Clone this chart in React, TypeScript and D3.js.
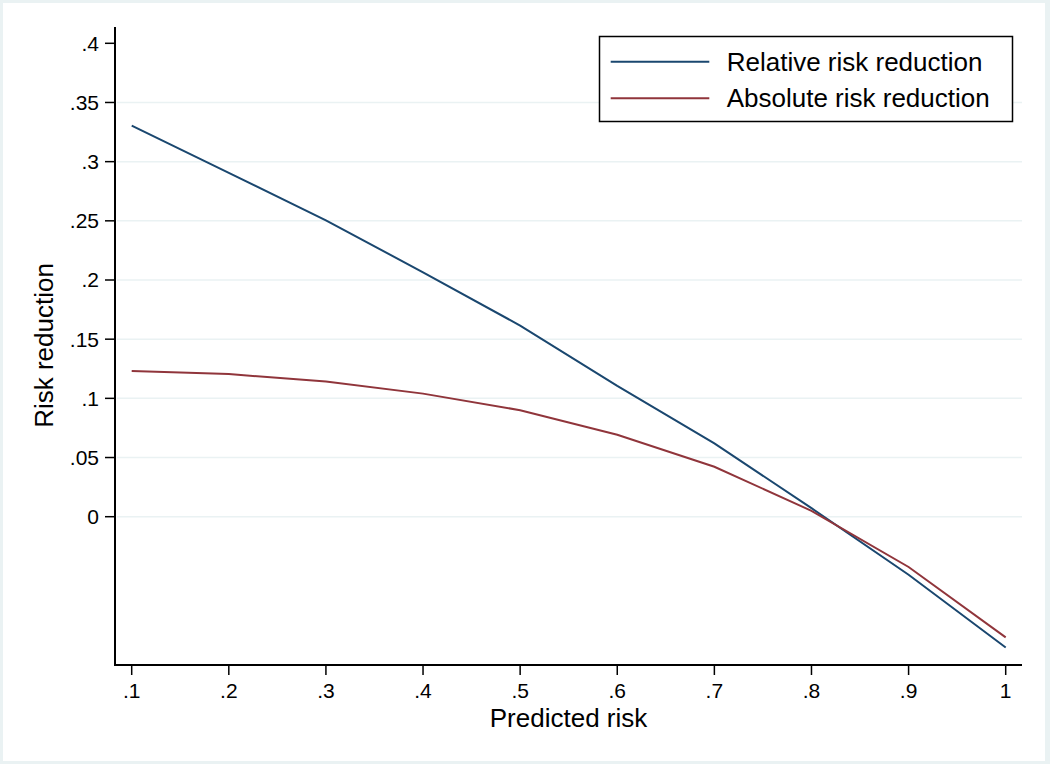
import React from "react";
import * as d3 from "d3";

const predictedRisk = [0.1, 0.2, 0.3, 0.4, 0.5, 0.6, 0.7, 0.8, 0.9, 1.0];
const relativeRiskReduction = [0.3305, 0.2906, 0.2504, 0.2065, 0.1615, 0.1105, 0.062, 0.0072, -0.049, -0.1105];
const absoluteRiskReduction = [0.1232, 0.1205, 0.1142, 0.1040, 0.0900, 0.0692, 0.0422, 0.0050, -0.0425, -0.1020];
const xTicks = [0.1, 0.2, 0.3, 0.4, 0.5, 0.6, 0.7, 0.8, 0.9, 1.0];
const xTickLabels = [".1", ".2", ".3", ".4", ".5", ".6", ".7", ".8", ".9", "1"];
const yTicks = [0, 0.05, 0.1, 0.15, 0.2, 0.25, 0.3, 0.35, 0.4];
const yTickLabels = ["0", ".05", ".1", ".15", ".2", ".25", ".3", ".35", ".4"];
const seriesNames = ["Relative risk reduction", "Absolute risk reduction"];
const seriesColors = ["#1a476f", "#90353b"];

const W = 1050;
const H = 764;
const FONT = "'Liberation Sans', Arial, Helvetica, sans-serif";

export default function App() {
  const left = 115, right = 1022, top = 27, bottom = 665;
  const x = d3.scaleLinear().domain([0.1, 1.0]).range([131.7, 1005.7]);
  const y = d3.scaleLinear().domain([0, 0.4]).range([516.7, 43.3]);
  const line = d3.line<number>().x((_, i) => x(predictedRisk[i])).y((v) => y(v));
  const series = [relativeRiskReduction, absoluteRiskReduction];

  return (
    <svg width={W} height={H} style={{ position: "absolute", left: 0, top: 0 }} fontFamily={FONT}>
      <rect x={0} y={0} width={W} height={H} fill="#eaf2f3" />
      <rect x={3} y={3} width={1042} height={758} fill="#ffffff" />
      {yTicks.filter((t) => t < 0.4).map((t) => (
        <line key={"g" + t} x1={left + 2} x2={right} y1={y(t)} y2={y(t)} stroke="#eaf2f3" strokeWidth={1.5} />
      ))}
      {series.map((s, i) => (
        <path key={i} d={line(s) || ""} fill="none" stroke={seriesColors[i]} strokeWidth={2} />
      ))}
      <line x1={left} x2={left} y1={top} y2={bottom + 1} stroke="#000" strokeWidth={2} />
      <line x1={left - 1} x2={right} y1={bottom} y2={bottom} stroke="#000" strokeWidth={2} />
      {yTicks.map((t, i) => (
        <g key={"y" + t}>
          <line x1={left - 10} x2={left} y1={y(t)} y2={y(t)} stroke="#000" strokeWidth={1.5} />
          <text x={99} y={y(t)} dy="0.35em" textAnchor="end" fontSize={21} fill="#000">{yTickLabels[i]}</text>
        </g>
      ))}
      {xTicks.map((t, i) => (
        <g key={"x" + t}>
          <line x1={x(t)} x2={x(t)} y1={bottom} y2={bottom + 10} stroke="#000" strokeWidth={1.5} />
          <text x={x(t)} y={698} textAnchor="middle" fontSize={21} fill="#000">{xTickLabels[i]}</text>
        </g>
      ))}
      <text x={(left + right) / 2} y={727} textAnchor="middle" fontSize={26} fill="#000">Predicted risk</text>
      <text transform={`translate(53,${(263 + 428) / 2}) rotate(-90)`} textAnchor="middle" fontSize={26} fill="#000">Risk reduction</text>
      <rect x={599.5} y={36.5} width={413} height={85} fill="#fff" stroke="#000" strokeWidth={1.5} />
      {seriesNames.map((n, i) => (
        <g key={n}>
          <line x1={610.7} x2={709.3} y1={61.7 + i * 36.6} y2={61.7 + i * 36.6} stroke={seriesColors[i]} strokeWidth={2} />
          <text x={726.7} y={70.7 + i * 36.6} fontSize={26} fill="#000">{n}</text>
        </g>
      ))}
    </svg>
  );
}
